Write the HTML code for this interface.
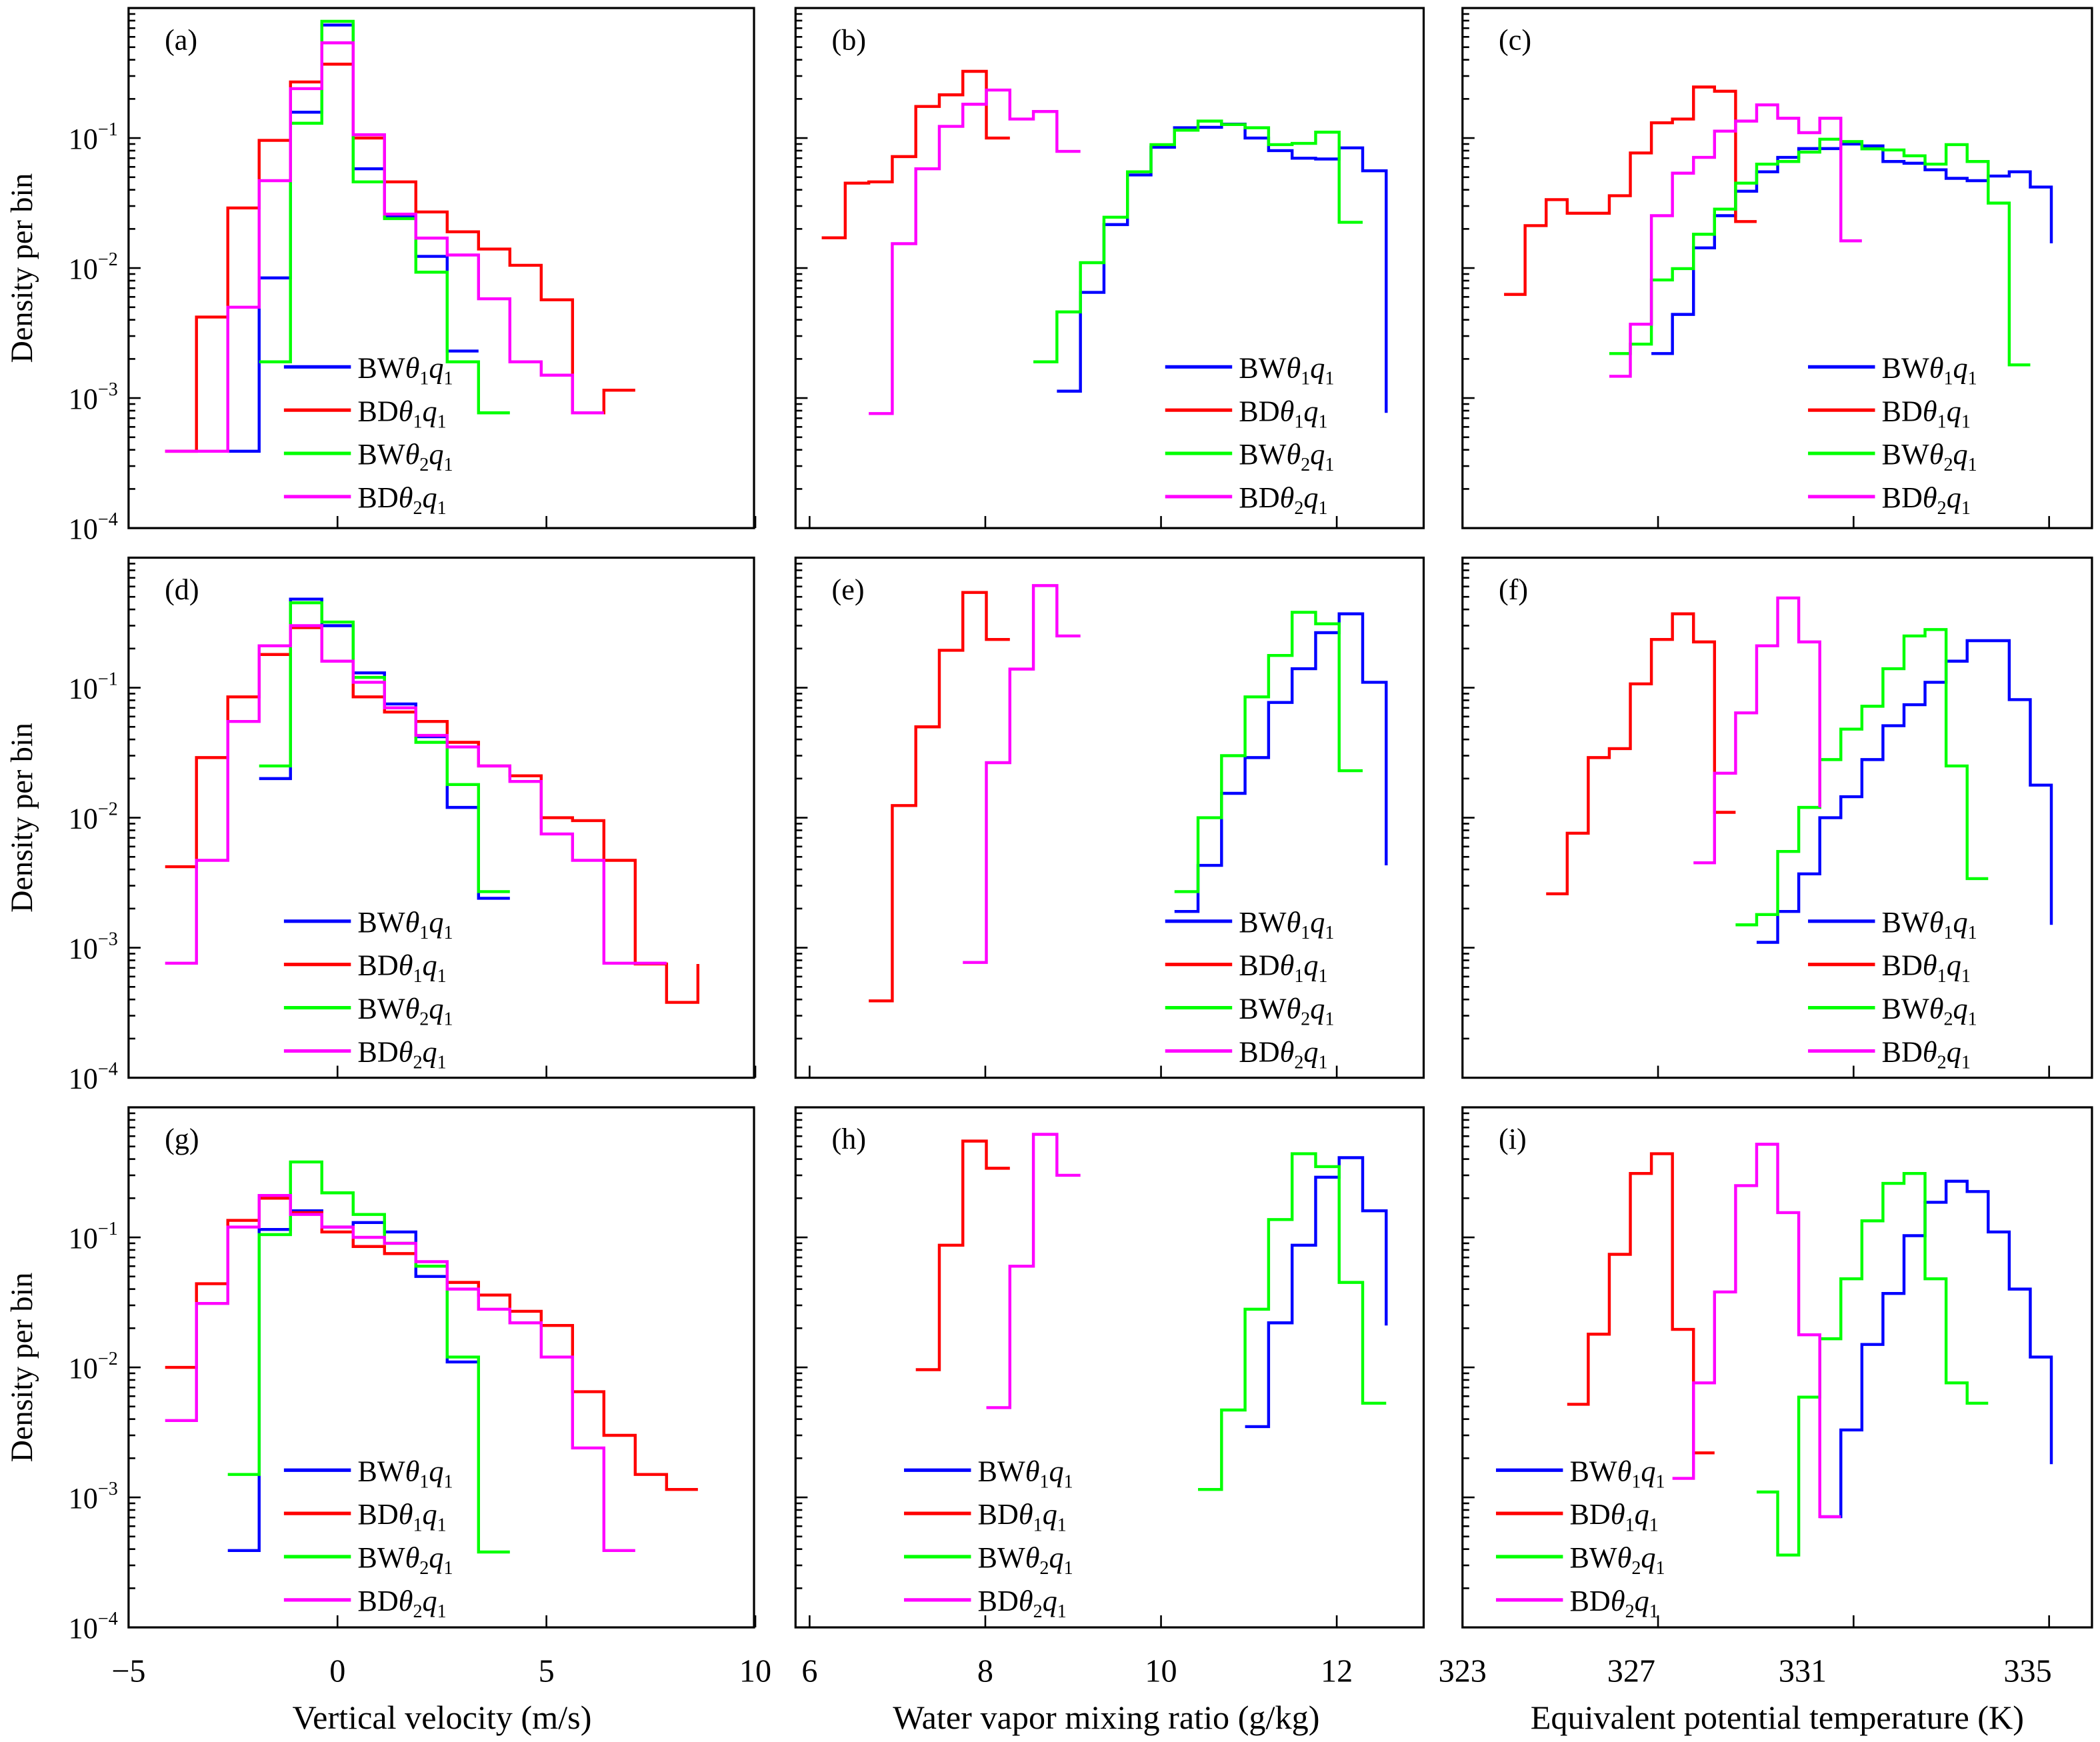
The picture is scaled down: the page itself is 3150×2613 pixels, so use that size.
<!DOCTYPE html>
<html>
<head>
<meta charset="utf-8">
<style>
html,body{margin:0;padding:0;background:#fff;}
svg{display:block;font-family:"Liberation Serif","DejaVu Serif",serif;}
</style>
</head>
<body>
<svg id="fig" xmlns="http://www.w3.org/2000/svg" width="3150" height="2613" viewBox="0 0 1568 1301" preserveAspectRatio="none">
<rect x="0" y="0" width="1568" height="1301" fill="#fff"/>
</svg>
<script>
// ---- data (bin start index, per-bin densities, optional tail) ----
const seriesNames = ["BW1", "BD1", "BW2", "BD2"];
const panelLabels = ["(a)","(b)","(c)","(d)","(e)","(f)","(g)","(h)","(i)"];
const colTickValues0 = [-5, 0, 5, 10];
const colTickValues1 = [6, 8, 10, 12];
const colTickValues2 = [323, 327, 331, 335];
const colTickLabels2 = ["323", "327", "331", "335"];
const yTickExps = [-1, -2, -3, -4];

const aBW1 = [0.00039,0.0084,0.158,0.74,0.058,0.025,0.0123,0.0023];
const aBD1 = [0.00039,0.0042,0.029,0.096,0.27,0.37,0.1,0.046,0.027,0.019,0.014,0.0105,0.0057,0.00077,0.00115];
const aBW2 = [0.0019,0.13,0.79,0.046,0.024,0.0093,0.0019,0.00077];
const aBD2 = [0.00039,0.00039,0.005,0.047,0.24,0.54,0.106,0.026,0.017,0.0126,0.0058,0.0019,0.0015,0.00077];

const bBW1 = [0.00113,0.0065,0.0216,0.052,0.085,0.12,0.121,0.128,0.1,0.08,0.07,0.069,0.084,0.056];
const bBD1 = [0.0171,0.045,0.046,0.072,0.175,0.215,0.326,0.1];
const bBW2 = [0.0019,0.0046,0.011,0.0246,0.055,0.089,0.115,0.135,0.127,0.12,0.089,0.091,0.111,0.0225];
const bBD2 = [0.00076,0.0154,0.058,0.123,0.182,0.234,0.14,0.16,0.079];

const cBW1 = [0.0022,0.0044,0.0143,0.0253,0.039,0.055,0.071,0.083,0.083,0.09,0.087,0.066,0.064,0.057,0.049,0.047,0.051,0.055,0.042];
const cBD1 = [0.00627,0.0212,0.0336,0.0264,0.0264,0.036,0.0768,0.131,0.14,0.247,0.229,0.0228];
const cBW2 = [0.0022,0.0026,0.0081,0.0099,0.0182,0.0284,0.045,0.063,0.066,0.078,0.098,0.094,0.0826,0.081,0.073,0.063,0.089,0.066,0.0316,0.0018];
const cBD2 = [0.00147,0.0037,0.0253,0.0537,0.071,0.113,0.135,0.18,0.142,0.11,0.142,0.0162];

const dBW1 = [0.02,0.48,0.3,0.13,0.075,0.042,0.012,0.0024];
const dBD1 = [0.0042,0.029,0.085,0.18,0.29,0.16,0.085,0.065,0.055,0.038,0.025,0.021,0.0100,0.0095,0.0047,0.00075,0.00038];
const dBW2 = [0.025,0.45,0.32,0.12,0.07,0.038,0.018,0.0027];
const dBD2 = [0.00076,0.0047,0.055,0.21,0.3,0.16,0.11,0.07,0.043,0.035,0.025,0.019,0.0075,0.0047,0.00076,0.00076];

const eBW1 = [0.0019,0.0043,0.0154,0.029,0.077,0.14,0.265,0.37,0.11];
const eBD1 = [0.00039,0.0124,0.05,0.194,0.54,0.235];
const eBW2 = [0.0027,0.01,0.03,0.085,0.177,0.38,0.31,0.023];
const eBD2 = [0.00077,0.0265,0.139,0.61,0.25];

const fBW1 = [0.0011,0.0019,0.0037,0.01,0.0145,0.028,0.051,0.074,0.11,0.16,0.23,0.23,0.081,0.0178];
const fBD1 = [0.0026,0.0076,0.029,0.034,0.107,0.235,0.37,0.225,0.011];
const fBW2 = [0.0015,0.0018,0.0055,0.012,0.028,0.048,0.072,0.14,0.25,0.28,0.025,0.0034];
const fBD2 = [0.0045,0.022,0.064,0.21,0.49,0.225];

const gBW1 = [0.00039,0.115,0.16,0.12,0.13,0.11,0.05,0.011];
const gBD1 = [0.01,0.044,0.135,0.2,0.155,0.11,0.085,0.075,0.06,0.045,0.036,0.027,0.021,0.0065,0.003,0.0015,0.00115];
const gBW2 = [0.0015,0.105,0.38,0.22,0.15,0.09,0.06,0.012,0.00038];
const gBD2 = [0.0039,0.031,0.12,0.21,0.15,0.12,0.1,0.09,0.065,0.04,0.028,0.022,0.012,0.0024,0.00039];

const hBW1 = [0.0035,0.022,0.087,0.29,0.41,0.16];
const hBD1 = [0.0096,0.087,0.55,0.34];
const hBW2 = [0.00115,0.0047,0.028,0.137,0.44,0.35,0.045,0.0053];
const hBD2 = [0.0049,0.06,0.62,0.3];

const iBW1 = [0.00071,0.0033,0.015,0.037,0.103,0.186,0.27,0.225,0.11,0.04,0.012];
const iBD1 = [0.0052,0.018,0.074,0.31,0.44,0.0196,0.0022];
const iBW2 = [0.0011,0.00036,0.0059,0.0166,0.048,0.134,0.26,0.31,0.048,0.0076,0.0053];
const iBD2 = [0.0014,0.0076,0.038,0.25,0.52,0.155,0.0178,0.00071];

// start bin indices and tails [BW1, BD1, BW2, BD2]
const startsA = [2,0,3,0], tailsA = [null,null,null,null];
const startsB = [10,0,9,2], tailsB = [0.00077,null,null,null];
const startsC = [7,0,5,5], tailsC = [0.0155,null,null,null];
const startsD = [3,0,3,0], tailsD = [null,0.00075,null,null];
const startsE = [15,2,15,6], tailsE = [0.0043,null,null,null];
const startsF = [12,2,11,9], tailsF = [0.0015,null,null,0.012];
const startsG = [2,0,2,0], tailsG = [null,null,null,null];
const startsH = [18,4,16,7], tailsH = [0.021,null,null,null];
const startsI = [15,3,12,8], tailsI = [0.0018,null,null,null];

// ---- layout ----
const NS = "http://www.w3.org/2000/svg";
const svg = document.getElementById("fig");
const COLS = [
  {x0:96, x1:563, map:v=>96+(v+5)*31.2, e0:-4.125, w:0.75},
  {x0:594, x1:1063, map:v=>604.5+(v-6)*65.6, e0:6.138, w:0.2677},
  {x0:1092, x1:1562, map:v=>1092+(v-323)*36.5, e0:323.85, w:0.4306}
];
const ROWS = [6, 416.5, 827];
const DEC = 97.1;
const COLORS = ["#0000ff","#ff0000","#00ff00","#ff00ff"];
const LEG = [
  {lx:212,tx:267},{lx:870,tx:925},{lx:1350,tx:1405},
  {lx:212,tx:267},{lx:870,tx:925},{lx:1350,tx:1405},
  {lx:212,tx:267},{lx:675,tx:730},{lx:1117,tx:1172}
];
const LEGY = [274, 688, 1098];

const panelData = [
  [[aBW1,aBD1,aBW2,aBD2],startsA,tailsA],
  [[bBW1,bBD1,bBW2,bBD2],startsB,tailsB],
  [[cBW1,cBD1,cBW2,cBD2],startsC,tailsC],
  [[dBW1,dBD1,dBW2,dBD2],startsD,tailsD],
  [[eBW1,eBD1,eBW2,eBD2],startsE,tailsE],
  [[fBW1,fBD1,fBW2,fBD2],startsF,tailsF],
  [[gBW1,gBD1,gBW2,gBD2],startsG,tailsG],
  [[hBW1,hBD1,hBW2,hBD2],startsH,tailsH],
  [[iBW1,iBD1,iBW2,iBD2],startsI,tailsI]
];

function mk(tag, attrs, parent){
  const el = document.createElementNS(NS, tag);
  for (const k in attrs) el.setAttribute(k, attrs[k]);
  (parent||svg).appendChild(el);
  return el;
}
function yMap(v, r){ return ROWS[r] + (-Math.log10(v))*DEC; }

const legendLabels = [
  'BW<tspan font-style="italic">θ</tspan><tspan font-size="14" dy="5">1</tspan><tspan font-style="italic" dy="-5">q</tspan><tspan font-size="14" dy="5">1</tspan>',
  'BD<tspan font-style="italic">θ</tspan><tspan font-size="14" dy="5">1</tspan><tspan font-style="italic" dy="-5">q</tspan><tspan font-size="14" dy="5">1</tspan>',
  'BW<tspan font-style="italic">θ</tspan><tspan font-size="14" dy="5">2</tspan><tspan font-style="italic" dy="-5">q</tspan><tspan font-size="14" dy="5">1</tspan>',
  'BD<tspan font-style="italic">θ</tspan><tspan font-size="14" dy="5">2</tspan><tspan font-style="italic" dy="-5">q</tspan><tspan font-size="14" dy="5">1</tspan>'
];
const colTicks = [colTickValues0, colTickValues1, colTickValues2];

for (let p = 0; p < 9; p++){
  const c = p % 3, r = Math.floor(p/3);
  const C = COLS[c];
  const top = ROWS[r], bot = top + 4*DEC;
  const g = mk("g", {});
  
  

  const clip = mk("clipPath", {id:"clip"+p}, g);
  mk("rect", {x:C.x0, y:top, width:C.x1-C.x0, height:bot-top}, clip);

  for (let d = 0; d < 4; d++){
    for (let m = 1; m <= 9; m++){
      const v = Math.pow(10, -(d+1)) * m;
      const y = yMap(v, r);
      const len = m === 1 ? 9 : 5;
      const t = mk("line", {x1:C.x0, x2:C.x0+len, y1:y, y2:y, stroke:"#000", "stroke-width":1.3}, g);
      
      
    }
  }
  colTicks[c].forEach(v => {
    const x = C.map(v);
    const t = mk("line", {x1:x, x2:x, y1:bot, y2:bot-9, stroke:"#000", "stroke-width":1.3}, g);
    
    
  });

  const [vals, starts, tails] = panelData[p];
  for (let s = 0; s < 4; s++){
    const arr = vals[s], st = starts[s];
    const ex = k => C.map(C.e0 + (st + k) * C.w);
    let d = "M" + ex(0).toFixed(2) + "," + yMap(arr[0], r).toFixed(2);
    for (let k = 0; k < arr.length; k++){
      if (k > 0) d += "V" + yMap(arr[k], r).toFixed(2);
      d += "H" + ex(k+1).toFixed(2);
    }
    if (tails[s] !== null) d += "V" + yMap(tails[s], r).toFixed(2);
    const path = mk("path", {d:d, fill:"none", stroke:COLORS[s], "stroke-width":2.2, "clip-path":"url(#clip"+p+")"}, g);
    
    
  }

  const fr = mk("rect", {x:C.x0, y:top, width:C.x1-C.x0, height:bot-top, fill:"none", stroke:"#000", "stroke-width":1.6}, g);
  
  

  const pl = mk("text", {x:C.x0+27, y:top+31, "font-size":22}, g);
  pl.textContent = panelLabels[p];
  
  

  const L = LEG[p];
  for (let s = 0; s < 4; s++){
    const y = LEGY[r] + s*32.3;
    const lg = mk("g", {}, g);
    
    
    mk("line", {x1:L.lx, x2:L.lx+50, y1:y, y2:y, stroke:COLORS[s], "stroke-width":2.6}, lg);
    const tx = mk("text", {x:L.tx, y:y+8, "font-size":22}, lg);
    tx.innerHTML = legendLabels[s];
  }

  if (c === 0){
    yTickExps.forEach((e, i) => {
      const y = yMap(Math.pow(10, e), r);
      const t = mk("text", {x:88, y:y+8, "font-size":22, "text-anchor":"end"}, g);
      t.innerHTML = '10<tspan font-size="14" dy="-10">−' + (-e) + '</tspan>';
      
      
    });
    const yl = mk("text", {x:0, y:0, "font-size":23, "text-anchor":"middle", transform:"translate(24," + ((top+bot)/2) + ") rotate(-90)"}, g);
    yl.textContent = "Density per bin";
    
    
  }
}

const xLabelY = 1256;
colTickValues0.forEach(v => {
  const t = mk("text", {x:COLS[0].map(v), y:xLabelY, "font-size":24, "text-anchor":"middle"});
  t.textContent = v < 0 ? "−" + (-v) : String(v);
  
  
});
colTickValues1.forEach(v => {
  const t = mk("text", {x:COLS[1].map(v), y:xLabelY, "font-size":24, "text-anchor":"middle"});
  t.textContent = String(v);
  
  
});
const col3LabelX = [1092, 1218, 1346, 1514];
colTickLabels2.forEach((lab, i) => {
  const t = mk("text", {x:col3LabelX[i], y:xLabelY, "font-size":24, "text-anchor":"middle"});
  t.textContent = lab;
  
  
});

const titles = [["Vertical velocity (m/s)", 330],["Water vapor mixing ratio (g/kg)", 826],["Equivalent potential temperature (K)", 1327]];
titles.forEach(([txt, x]) => {
  const t = mk("text", {x:x, y:1291, "font-size":25, "text-anchor":"middle"});
  t.textContent = txt;
  
  
});
</script>
</body>
</html>
